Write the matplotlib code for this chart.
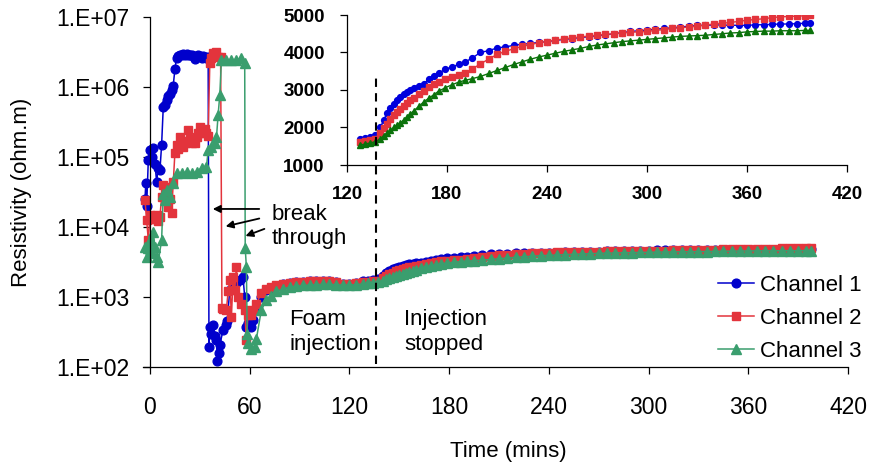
import matplotlib
import matplotlib.pyplot as plt
from matplotlib.ticker import FixedLocator, NullLocator

matplotlib.use("Agg")
plt.rcParams["font.family"] = ["Liberation Sans", "DejaVu Sans"]

# ── Data ─────────────────────────────────────────────────────────────────────
# early (pre / during breakthrough) readings, one time list per channel
t1_early = [-3, -2.5, -2, -1, 0, 1, 2, 3, 4, 5, 6, 7, 8, 9, 10, 11, 12, 13, 14,
            15, 16, 17, 18, 19, 20, 21, 22, 23, 24, 25, 26, 27, 28, 29, 30, 31,
            32, 33, 34, 35, 35.5, 36, 37, 38, 39, 40, 40.5, 41.5, 42, 44, 46,
            46.5, 48, 50, 52, 54, 56, 57, 58, 59, 61, 62]
ch1_early = [2.5e4, 4.3e4, 2e4, 9e4, 1.25e5, 1e5, 1.35e5, 8e4, 4.4e4, 7e4,
             6.5e4, 1.5e5, 5.2e5, 5.5e5, 6.5e5, 7.5e5, 8e5, 9e5, 1.05e6, 1.8e6,
             2.6e6, 2.8e6, 2.9e6, 2.9e6, 3e6, 2.9e6, 3e6, 2.9e6, 2.9e6, 2.9e6,
             2.8e6, 2.5e6, 2.8e6, 2.9e6, 2.8e6, 2.6e6, 2.8e6, 2.7e6, 2.6e6,
             2.7e6, 190, 375, 300, 400, 280, 240, 120, 160, 205, 340, 400, 460,
             1250, 1300, 1600, 1750, 1900, 1000, 375, 430, 375, 470]

t2_early = [-3, -2, -1, 0, 1, 2, 3, 4, 5, 6, 7, 8, 9, 10, 11, 12, 13, 14, 15,
            16, 17, 18, 19, 20, 21, 22, 23, 24, 25, 26, 27, 28, 29, 30, 31, 32,
            33, 34, 35, 36, 37, 38, 39, 40, 41, 42.5, 43.3, 44, 46, 47, 48, 49,
            50, 51, 52, 53, 55, 57, 58, 59, 61, 62]
ch2_early = [2.4e4, 1.26e4, 6.5e3, 1.5e4, 1.3e4, 1.4e4, 1.3e4, 1.5e4, 1.2e4,
             1.4e4, 2.7e4, 4e4, 3e4, 3.7e4, 1.9e4, 2.5e4, 1.6e4, 4.4e4, 1.15e5,
             1.5e5, 1.3e5, 1.9e5, 1.6e5, 1.4e5, 1.6e5, 1.7e5, 2.4e5, 1.8e5,
             1.6e5, 1.7e5, 1.6e5, 1.9e5, 2.2e5, 2.7e5, 2.4e5, 2.2e5, 2.5e5,
             2.2e5, 2e5, 2.2e6, 2.6e6, 3.1e6, 3e6, 3.2e6, 2.7e6, 2.7e6, 700,
             680, 650, 1200, 1750, 520, 1900, 1250, 2700, 1000, 800, 650, 240,
             560, 560, 650]

t3_early = [-3, -2, -1, 0, 1, 2, 3, 4, 5, 7, 8, 9, 10, 12, 14, 16, 19, 22, 25,
            28, 31, 34, 35, 37, 39, 40, 41, 42, 43, 46, 49, 52, 55, 57, 57.3,
            58, 58.5, 59, 61, 63]
ch3_early = [5.2e3, 3.7e3, 5e3, 6.5e3, 4.2e3, 8.5e3, 5.2e3, 3.7e3, 3.2e3, 6.5e3,
             3e4, 2.4e4, 3.4e4, 2.7e4, 4.3e4, 5.9e4, 5.9e4, 6.1e4, 5.9e4, 6.1e4,
             7e4, 7.2e4, 1.25e5, 1.4e5, 1.6e5, 1.9e5, 4e5, 7.7e5, 2.4e6, 2.4e6,
             2.4e6, 2.4e6, 2.6e6, 2.2e6, 5e3, 2.7e3, 300, 220, 180, 190]

# later readings share one time list
t_late = [64, 67, 70, 73, 76, 80, 84, 88, 92, 96, 100, 104, 108, 112, 116, 120,
          124, 128, 131, 134, 137, 140, 142, 144, 146, 148, 150, 152, 154, 156,
          158, 160, 163, 166, 169, 172, 175, 179, 183, 187, 191, 195, 200, 205,
          210, 215, 220, 225, 230, 235, 240, 245, 250, 255, 260, 265, 270, 275,
          280, 285, 290, 295, 300, 305, 310, 315, 320, 325, 330, 335, 340, 345,
          350, 355, 360, 365, 370, 375, 380, 385, 390, 395, 398]
ch1_late = [700, 1000, 1250, 1350, 1450, 1520, 1580, 1620, 1650, 1680, 1700,
            1700, 1700, 1650, 1550, 1550, 1600, 1680, 1720, 1750, 1800, 2000,
            2200, 2380, 2520, 2620, 2720, 2800, 2880, 2950, 3000, 3050, 3100,
            3150, 3300, 3380, 3450, 3550, 3620, 3680, 3750, 3850, 4000, 4050,
            4120, 4150, 4190, 4220, 4240, 4270, 4290, 4320, 4350, 4370, 4400,
            4420, 4450, 4470, 4500, 4530, 4560, 4580, 4600, 4620, 4640, 4660,
            4680, 4700, 4720, 4730, 4730, 4740, 4720, 4730, 4720, 4740, 4740,
            4750, 4760, 4760, 4770, 4780, 4790]
ch2_late = [800, 1150, 1300, 1400, 1480, 1550, 1600, 1630, 1650, 1670, 1680,
            1680, 1680, 1640, 1550, 1540, 1580, 1620, 1650, 1670, 1700, 1850,
            1980, 2100, 2220, 2330, 2420, 2500, 2580, 2650, 2720, 2790, 2880,
            2980, 3080, 3150, 3220, 3300, 3350, 3400, 3450, 3550, 3700, 3820,
            3950, 4030, 4100, 4160, 4210, 4260, 4290, 4330, 4360, 4390, 4410,
            4440, 4460, 4480, 4500, 4520, 4540, 4550, 4560, 4590, 4610, 4640,
            4660, 4680, 4700, 4730, 4760, 4780, 4800, 4830, 4860, 4880, 4900,
            4930, 4950, 4960, 4970, 4980, 4990]
ch3_late = [250, 650, 900, 1050, 1200, 1300, 1380, 1420, 1460, 1480, 1500,
            1510, 1510, 1500, 1480, 1480, 1500, 1530, 1560, 1590, 1620, 1700,
            1780, 1850, 1920, 2000, 2060, 2120, 2200, 2280, 2360, 2440, 2560,
            2680, 2780, 2870, 2970, 3060, 3140, 3210, 3260, 3300, 3360, 3440,
            3520, 3600, 3680, 3750, 3820, 3880, 3930, 3980, 4030, 4070, 4110,
            4160, 4200, 4230, 4260, 4290, 4310, 4330, 4350, 4370, 4390, 4410,
            4430, 4440, 4450, 4460, 4480, 4500, 4520, 4530, 4550, 4560, 4570,
            4570, 4580, 4580, 4580, 4590, 4590]

labels = ["Channel 1", "Channel 2", "Channel 3"]
y_ticks = [1e2, 1e3, 1e4, 1e5, 1e6, 1e7]
y_ticklabels = ["1.E+02", "1.E+03", "1.E+04", "1.E+05", "1.E+06", "1.E+07"]
x_ticks = [0, 60, 120, 180, 240, 300, 360, 420]
inset_x_ticks = [120, 180, 240, 300, 360, 420]
inset_y_ticks = [1000, 2000, 3000, 4000, 5000]
t_stop = 137.5

# ── Styles ───────────────────────────────────────────────────────────────────
main_colors = ["#0000CC", "#E3343C", "#3A9E6E"]
inset_colors = ["#0000DD", "#E3343C", "#0B720B"]
markers = ["o", "s", "^"]

series = [
    (t1_early + t_late, ch1_early + ch1_late),
    (t2_early + t_late, ch2_early + ch2_late),
    (t3_early + t_late, ch3_early + ch3_late),
]

fig = plt.figure(figsize=(8.69, 4.65), dpi=100)
ax = fig.add_axes([143 / 869, 98 / 465, 705 / 869, 350 / 465])

for (t, v), c, m, lab in zip(series, main_colors, markers, labels):
    ax.plot(t, v, color=c, marker=m, markersize=6.3 if m != "^" else 7.0,
            markeredgecolor=c, lw=1.1, label=lab, clip_on=False)

ax.set_yscale("log")
ax.set_ylim(1e2, 1e7)
ax.set_xlim(-4.2, 420)
ax.yaxis.set_major_locator(FixedLocator(y_ticks))
ax.yaxis.set_minor_locator(NullLocator())
ax.set_yticklabels(y_ticklabels)
ax.set_xticks(x_ticks)
ax.spines["top"].set_visible(False)
ax.spines["right"].set_visible(False)
ax.spines["left"].set_position(("data", 0))
for s in ("left", "bottom"):
    ax.spines[s].set_linewidth(0.9)
ax.tick_params(axis="y", direction="out", length=5, width=0.9, pad=10, labelsize=16.5)
ax.tick_params(axis="x", direction="out", length=5, width=0.9, pad=16, labelsize=16.5)

fig.text(22 / 869, 1 - 192 / 465, "Resistivity (ohm.m)", rotation=90,
         ha="center", va="center", fontsize=16)
fig.text(508 / 869, 1 - 451 / 465, "Time (mins)", ha="center", va="center",
         fontsize=16)

# annotations
ax.text(73.4, 1.03e4, "break\nthrough", fontsize=16, va="center", ha="left")
arrow_kw = dict(arrowstyle="-|>", color="black", lw=1.3, mutation_scale=11)
ax.annotate("", xy=(36.1, 1.81e4), xytext=(67.4, 1.81e4), arrowprops=arrow_kw)
ax.annotate("", xy=(43.9, 1.0e4), xytext=(67.4, 1.35e4), arrowprops=arrow_kw)
ax.annotate("", xy=(55.9, 7.2e3), xytext=(70.4, 9.7e3), arrowprops=arrow_kw)
ax.text(84.0, 316, "Foam\ninjection", fontsize=16, va="center", ha="left")
ax.text(153, 316, "Injection\nstopped", fontsize=16, va="center", ha="left")

ax.legend(loc="lower right", bbox_to_anchor=(862 / 869, 1 - 362 / 465),
          bbox_transform=fig.transFigure, frameon=False, fontsize=16,
          handlelength=1.6, handletextpad=0.3, labelspacing=0.55,
          borderpad=0, borderaxespad=0)

# ── Inset ────────────────────────────────────────────────────────────────────
ins = fig.add_axes([347 / 869, 300 / 465, 500 / 869, 150 / 465])
ins.patch.set_visible(False)
for (t, v), c, m in zip(series, inset_colors, markers):
    tt = [a for a in t if a >= 128]
    vv = [b for a, b in zip(t, v) if a >= 128]
    ins.plot(tt, vv, color=c, marker=m, markersize=4.2 if m != "^" else 4.8,
             markeredgecolor=c, lw=1.0)
ins.set_xlim(120, 420)
ins.set_ylim(1000, 5000)
ins.set_xticks(inset_x_ticks)
ins.set_yticks(inset_y_ticks)
ins.spines["top"].set_visible(False)
ins.spines["right"].set_visible(False)
for s in ("left", "bottom"):
    ins.spines[s].set_linewidth(0.9)
ins.tick_params(axis="both", direction="out", length=5, width=0.9, labelsize=13.5)
ins.tick_params(axis="x", pad=10)
ins.tick_params(axis="y", pad=11)
for lbl in ins.get_xticklabels() + ins.get_yticklabels():
    lbl.set_fontweight("bold")

# dashed "injection stopped" marker, running through both axes
ins.plot([t_stop, t_stop], [-4300, 3430], color="black", lw=1.5,
         ls=(0, (4, 3)), clip_on=False, zorder=5)

fig.savefig("out.png", dpi=100)
